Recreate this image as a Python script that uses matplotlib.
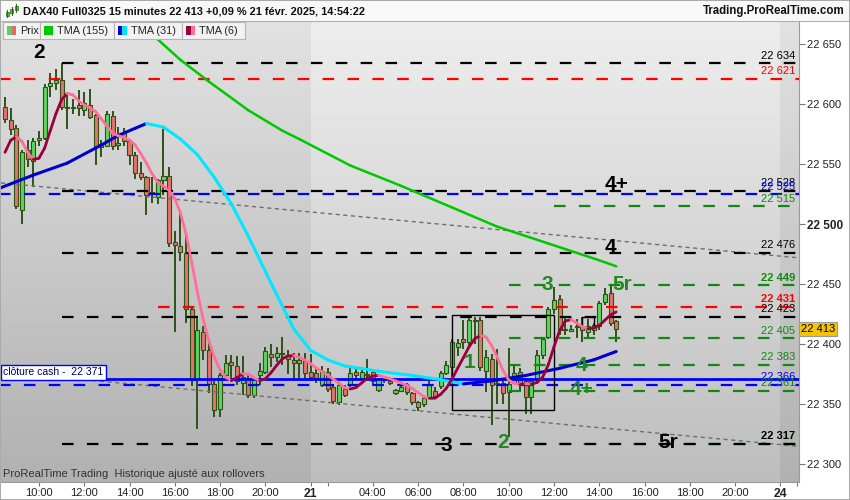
import numpy as np
import pandas as pd
import matplotlib
matplotlib.use("Agg")
import matplotlib.pyplot as plt
import matplotlib.colors as mcolors
from matplotlib.patches import Rectangle
from matplotlib.collections import LineCollection
from matplotlib.transforms import blended_transform_factory

plt.rcParams['font.family'] = ['Liberation Sans', 'DejaVu Sans']

# DAX40 Full0325, 15 min bars: Thu 20 Feb 08:30 -> Fri 21 Feb 14:45
opens = [22598, 22587, 22580, 22512, 22562, 22553, 22570, 22572, 22615, 22618,
         22620, 22598, 22597, 22599, 22595, 22599, 22591, 22567, 22565, 22590,
         22566, 22576, 22569, 22558, 22543, 22539, 22527, 22523, 22537, 22540,
         22485, 22482, 22476, 22429, 22370, 22410, 22395, 22367, 22346, 22374,
         22385, 22382, 22368, 22372, 22358, 22374, 22377, 22392, 22389, 22393,
         22390, 22387, 22384, 22386, 22377,
         22376, 22366, 22377, 22364, 22352, 22363, 22366, 22377, 22372, 22374,
         22377, 22362, 22371, 22369, 22359, 22361, 22366, 22359, 22352, 22350,
         22356, 22361, 22365, 22376, 22381, 22398, 22404, 22402, 22420, 22420,
         22378, 22388, 22368, 22368, 22360, 22368, 22377, 22369, 22356, 22371,
         22391, 22406, 22429, 22438, 22413, 22411, 22415, 22415, 22410, 22412,
         22415, 22435, 22443, 22419]
highs = [22606, 22597, 22583, 22562, 22570, 22572, 22578, 22617, 22626, 22629,
         22634, 22609, 22604, 22612, 22610, 22613, 22592, 22570, 22594, 22594,
         22581, 22580, 22570, 22560, 22552, 22540, 22539, 22538, 22579, 22548,
         22494, 22512, 22492, 22430, 22423, 22415, 22402, 22369, 22376, 22391,
         22391, 22390, 22390, 22374, 22373, 22384, 22398, 22400, 22398, 22406,
         22395, 22393, 22393, 22393, 22392,
         22380, 22382, 22380, 22366, 22368, 22366, 22381, 22379, 22381, 22388,
         22379, 22372, 22373, 22371, 22363, 22366, 22368, 22360, 22353, 22357,
         22373, 22364, 22378, 22386, 22404, 22404, 22420, 22423, 22423, 22423,
         22395, 22392, 22396, 22370, 22397, 22382, 22380, 22372, 22372, 22395,
         22406, 22431, 22448, 22441, 22422, 22416, 22421, 22423, 22421, 22418,
         22436, 22447, 22449, 22420]
lows = [22584, 22574, 22513, 22500, 22548, 22531, 22565, 22570, 22606, 22612,
        22595, 22579, 22592, 22590, 22590, 22588, 22549, 22556, 22564, 22562,
        22562, 22565, 22549, 22538, 22537, 22508, 22518, 22517, 22524, 22481,
        22410, 22469, 22418, 22365, 22329, 22387, 22359, 22339, 22339, 22373,
        22369, 22366, 22358, 22355, 22355, 22366, 22375, 22381, 22385, 22383,
        22375, 22372, 22372, 22371, 22370,
        22368, 22364, 22360, 22350, 22349, 22356, 22364, 22371, 22370, 22370,
        22366, 22360, 22368, 22366, 22358, 22360, 22358, 22349, 22344, 22348,
        22354, 22356, 22363, 22374, 22373, 22390, 22396, 22398, 22400, 22378,
        22360, 22333, 22350, 22350, 22323, 22368, 22360, 22342, 22342, 22368,
        22388, 22404, 22425, 22408, 22408, 22410, 22405, 22402, 22404, 22408,
        22412, 22433, 22415, 22402]
closes = [22588, 22579, 22515, 22560, 22554, 22569, 22572, 22614, 22618, 22620,
          22598, 22597, 22597, 22597, 22601, 22589, 22565, 22564, 22592, 22565,
          22568, 22569, 22558, 22543, 22539, 22524, 22525, 22537, 22540, 22484,
          22483, 22477, 22429, 22370, 22412, 22395, 22367, 22345, 22374, 22384,
          22383, 22369, 22373, 22358, 22372, 22378, 22394, 22389, 22393, 22392,
          22388, 22384, 22387, 22376, 22373,
          22372, 22378, 22363, 22353, 22366, 22358, 22376, 22374, 22377, 22375,
          22369, 22371, 22370, 22368, 22362, 22364, 22360, 22352, 22348, 22355,
          22366, 22357, 22376, 22383, 22402, 22401, 22402, 22420, 22419, 22381,
          22389, 22366, 22367, 22359, 22367, 22376, 22367, 22356, 22369, 22391,
          22404, 22429, 22437, 22412, 22412, 22413, 22414, 22412, 22415, 22416,
          22434, 22442, 22418, 22413]

# TMA(6) before enough bars are on screen
tma6_head = [22560, 22570, 22573, 22569, 22560]

# TMA(31) and TMA(155) at some bars
tma31_bar = [-1, 5, 11, 17, 20, 23, 25, 28, 31, 34, 37, 40, 43, 47, 51, 54, 57,
             60, 66, 72, 77, 81, 86, 92, 98, 104, 108]
tma31_val = [22530, 22541, 22551, 22566, 22574, 22580, 22584, 22581, 22571, 22558,
             22539, 22517, 22490, 22451, 22413, 22395, 22387, 22382, 22377.5, 22374,
             22370.5, 22367, 22369.5, 22374, 22380, 22387, 22394]
tma155_bar = [22, 27, 31, 36, 43, 49, 52, 61, 70, 79, 87, 96, 105, 108]
tma155_val = [22680, 22654, 22637, 22619, 22595, 22578, 22571, 22549, 22532, 22514,
              22498, 22484, 22470, 22465]

# horizontal levels (dashed) with their right-side labels
level_val = [22634, 22621, 22528, 22525, 22515, 22476, 22449, 22431, 22423, 22405,
             22383, 22366, 22361, 22317, 22317]
level_col = ['black', 'red', 'black', 'blue', 'green', 'black', 'green', 'red', 'black',
             'green', 'green', 'blue', 'green', 'green', 'black']
level_from = [10, -1, 10, -1, 97, 10, 89, 27, 10, 89, 89, -1, 89, 89, 10]
level_bold = [False, False, False, False, False, False, True, True, False, False,
              False, False, False, True, True]
level_show = [True, True, True, True, True, True, True, True, True, True,
              True, True, True, False, True]

cash_close = 22371

# two sloping trend lines (value at left edge, value at right edge)
trend_left = [22534.5, 22377]
trend_right = [22472, 22315]

# wave count labels
wave_txt = ['2', '4+', '4', '3', '5r', '1', '4', '4+', '3', '2', '5r']
wave_bar = [6, 108, 106.9, 95.8, 109, 82, 101.8, 101.9, 77.9, 88, 117.2]
wave_val = [22643, 22533, 22481, 22450, 22450, 22385, 22382, 22362, 22316, 22318, 22318]
wave_col = ['black', 'black', 'black', 'g', 'g', 'g', 'g', 'g', 'black', 'g', 'black']

box_bar = [79, 97]
box_val = [22345, 22424]
small_box_bar = [101.9, 104.1]
small_box_val = [22415, 22423]

time_tick_bar = [6, 14, 22, 30, 38, 46, 54, 65, 73, 81, 89, 97, 105, 113, 121, 129, 137]
time_tick_lab = ['10:00', '12:00', '14:00', '16:00', '18:00', '20:00', '21', '04:00',
                 '06:00', '08:00', '10:00', '12:00', '14:00', '16:00', '18:00', '20:00', '24']
minor_tick_bar = [57, 140]
day_edges = [-0.71, 54, 137, 140.3]
price_ticks = [22300, 22350, 22400, 22450, 22500, 22550, 22600, 22650]

W, H = 850, 500
XMIN, XMAX = -0.71, 140.3
YMIN, YMAX = 22285.25, 22669.4

DK_GREEN = '#2d5217'
CAND_UP = '#5cd65c'
CAND_DN = '#e5736b'
WAVE_GREEN = '#1f8a1f'
LEVEL_COLORS = {'black': '#000000', 'red': '#ff0000', 'blue': '#0000ff', 'green': '#118811'}


def fy(py):
    return 1 - py / H


def vgrad(top, bottom, n=256):
    t = np.linspace(0, 1, n)[:, None]
    a = np.array(mcolors.to_rgb(top))
    b = np.array(mcolors.to_rgb(bottom))
    return (a + (b - a) * t)[:, None, :]


def slope_line(ax, xs, ys, up, down, lw, z):
    xs = np.asarray(xs, float)
    ys = np.asarray(ys, float)
    pts = np.column_stack([xs, ys])
    segs = np.stack([pts[:-1], pts[1:]], axis=1)
    cols = [up if b >= a else down for a, b in zip(ys[:-1], ys[1:])]
    ax.add_collection(LineCollection(segs, colors=cols, linewidths=lw, zorder=z,
                                     capstyle='round', joinstyle='round'))


fig = plt.figure(figsize=(W / 100, H / 100), dpi=100)
fig.patch.set_facecolor('white')
ax = fig.add_axes([1 / W, 18 / H, 798 / W, 461 / H])
ax.set_xlim(XMIN, XMAX)
ax.set_ylim(YMIN, YMAX)

# background: one vertical gradient per session
shades = [('#e2e2e2', '#b1b1b1'), ('#eeeeee', '#bebebe'), ('#e2e2e2', '#b1b1b1')]
for (k0, k1), (top, bot) in zip(zip(day_edges[:-1], day_edges[1:]), shades):
    ax.imshow(vgrad(top, bot), extent=[k0, k1, YMIN, YMAX], aspect='auto',
              origin='upper', zorder=0, interpolation='bilinear')

bar = np.arange(len(closes))
o = np.array(opens, float)
c = np.array(closes, float)

# candles
ax.vlines(bar, lows, highs, colors=DK_GREEN, linewidth=1.4, zorder=2)
body_lo = np.minimum(o, c)
body_h = np.maximum(np.abs(c - o), 0.8)
fills = [CAND_UP if cc >= oo else CAND_DN for oo, cc in zip(o, c)]
ax.bar(bar, body_h, bottom=body_lo, width=0.72, color=fills, edgecolor=DK_GREEN,
       linewidth=0.8, zorder=2.5)

# trend lines
for vl, vr in zip(trend_left, trend_right):
    ax.plot([XMIN, XMAX], [vl, vr], color='#6e6e6e', lw=1.0, ls=(0, (3, 2.5)), zorder=3)

# cash close
ax.plot([XMIN, XMAX], [cash_close, cash_close], color='#0000ff', lw=2.0, zorder=3.2)

# dashed levels + labels
for v, col, k0, bold, show in zip(level_val, level_col, level_from, level_bold, level_show):
    ax.plot([k0, XMAX], [v, v], color=LEVEL_COLORS[col], lw=1.6,
            ls=(0, (5.2, 6.0)), zorder=3.1)
    if show:
        ax.text(139.6, v + 2.3, f"{v:,}".replace(',', ' '), color=LEVEL_COLORS[col],
                fontsize=8, ha='right', va='bottom',
                fontweight='bold' if bold else 'normal', zorder=5)

# rectangles
ax.add_patch(Rectangle((box_bar[0], box_val[0]), box_bar[1] - box_bar[0],
                       box_val[1] - box_val[0], fill=False, ec='black', lw=1.0, zorder=3.3))
ax.plot([small_box_bar[0], small_box_bar[0], small_box_bar[1], small_box_bar[1]],
        [small_box_val[0], small_box_val[1], small_box_val[1], small_box_val[0]],
        color='black', lw=1.0, zorder=3.3)

# moving averages
tma6 = pd.Series(c).rolling(3).mean().rolling(4).mean().to_numpy()
tma6[:len(tma6_head)] = tma6_head
slope_line(ax, tma155_bar, tma155_val, '#00c800', '#00c800', 1.8, 4)
slope_line(ax, tma31_bar, tma31_val, '#0000cc', '#00e8ff', 2.2, 4.1)
slope_line(ax, bar, tma6, '#99003d', '#ff6f96', 2.0, 4.2)

# wave labels
for t, k, v, col in zip(wave_txt, wave_bar, wave_val, wave_col):
    ax.text(k, v, t, color=WAVE_GREEN if col == 'g' else 'black', fontsize=15,
            fontweight='bold', ha='center', va='center', zorder=6)

# cash close tag on the left
btr = blended_transform_factory(ax.transAxes, ax.transData)
ax.text(0.003, cash_close + 5.5, "clôture cash -  22 371", transform=btr, fontsize=7.5,
        color='#000060', ha='left', va='center', zorder=7,
        bbox=dict(boxstyle='square,pad=0.2', fc='white', ec='#0000ff', lw=1.0))

# last price tag
ax.text(1.0025, closes[-1], f"{closes[-1]:,}".replace(',', ' '), transform=btr,
        fontsize=8, ha='left', va='center', clip_on=False, zorder=7,
        bbox=dict(boxstyle='square,pad=0.18', fc='#f7c400', ec='#9a9a9a', lw=0.8))

# axes
ax.yaxis.tick_right()
ax.set_yticks(price_ticks)
ax.set_yticklabels([f"{p:,}".replace(',', ' ') for p in price_ticks])
ax.tick_params(axis='y', length=4, width=0.8, color='#777777', labelsize=8,
               labelcolor='#222222', pad=2)
for lab in ax.get_yticklabels():
    if lab.get_text() == '22 500':
        lab.set_fontweight('bold')
        lab.set_fontsize(8.5)
ax.set_xticks(time_tick_bar)
ax.set_xticklabels(time_tick_lab)
ax.set_xticks(minor_tick_bar, minor=True)
ax.tick_params(axis='x', which='both', length=3, width=0.8, color='#777777',
               labelsize=8, labelcolor='#222222', pad=1)
for lab in ax.get_xticklabels():
    if lab.get_text() in ('21', '24'):
        lab.set_fontweight('bold')
        lab.set_fontsize(8.8)
for side in ('left', 'top'):
    ax.spines[side].set_visible(False)
for side in ('right', 'bottom'):
    ax.spines[side].set_color('#9a9a9a')
    ax.spines[side].set_linewidth(0.8)

ax.text(0.003, 22291.5, "ProRealTime Trading  Historique ajusté aux rollovers",
        transform=btr, fontsize=8, color='#333333', ha='left', va='center', zorder=7)

# header bar
fig.add_artist(Rectangle((0, fy(21)), 1, 21 / H, transform=fig.transFigure,
                         fc='#f8f8f8', ec='none', zorder=0))
fig.add_artist(plt.Line2D([0, 1], [fy(21), fy(21)], transform=fig.transFigure,
                          color='#b0b0b0', lw=0.8))
fig.text(23 / W, fy(11), "DAX40 Full0325 15 minutes 22 413 +0,09 % 21 févr. 2025, 14:54:22",
         fontsize=7.9, fontweight='bold', ha='left', va='center', color='#111111')
fig.text(845 / W, fy(11), "Trading.ProRealTime.com", fontsize=8.3, fontweight='bold',
         ha='right', va='center', color='#111111')
# little candle icon
for cx, wy0, wy1, by0, by1 in [(7, 17, 10, 16, 12), (11.5, 15, 7, 13, 9), (16, 12, 4, 10, 6)]:
    fig.add_artist(plt.Line2D([cx / W, cx / W], [fy(wy0), fy(wy1)], transform=fig.transFigure,
                              color='#2d6a1a', lw=0.8))
    fig.add_artist(Rectangle(((cx - 1.5) / W, fy(by0)), 3 / W, (by0 - by1) / H,
                             transform=fig.transFigure, fc='#55c040', ec='#2d6a1a', lw=0.5))

# legend strip
legend_items = [(3, 40, 'Prix', '#5ccf5c', '#e46a6a'),
                (40, 114, 'TMA (155)', '#00c800', '#00c800'),
                (114, 182, 'TMA (31)', '#0000cc', '#00e5ff'),
                (182, 245, 'TMA (6)', '#99003d', '#ff6f96')]
for x0, x1, name, c_left, c_right in legend_items:
    fig.add_artist(Rectangle((x0 / W, fy(39)), (x1 - x0) / W, 17 / H,
                             transform=fig.transFigure, fc='#f2f2f2', ec='#b4b4b4', lw=0.8))
    fig.add_artist(Rectangle(((x0 + 4) / W, fy(35)), 4.5 / W, 9 / H,
                             transform=fig.transFigure, fc=c_left, ec='none'))
    fig.add_artist(Rectangle(((x0 + 8.5) / W, fy(35)), 4.5 / W, 9 / H,
                             transform=fig.transFigure, fc=c_right, ec='none'))
    fig.text((x0 + 17) / W, fy(30.5), name, fontsize=7.8, color='#222222',
             ha='left', va='center')

# outer frame
fig.add_artist(Rectangle((0, 0), 1, 1, transform=fig.transFigure, fill=False,
                         ec='#9a9a9a', lw=1.2))

fig.savefig('out.png', dpi=100)
